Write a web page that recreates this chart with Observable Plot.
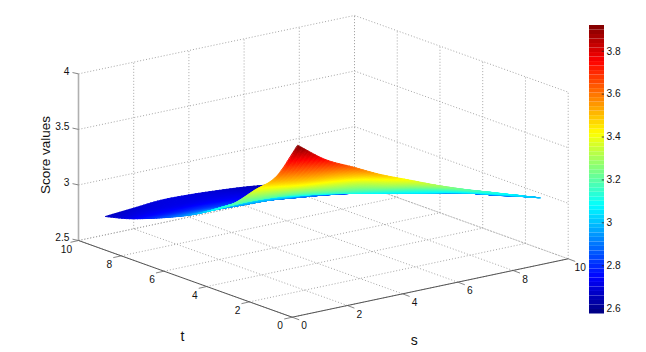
<!DOCTYPE html>
<html>
<head>
<meta charset="utf-8">
<script src="https://cdn.jsdelivr.net/npm/d3@7"></script>
<script src="https://cdn.jsdelivr.net/npm/@observablehq/plot@0.6"></script>
<style>
html,body{margin:0;padding:0;background:#fff;}
#chart{position:relative;width:646px;height:352px;overflow:hidden;}
#chart svg{position:absolute;left:0;top:0;background:transparent;}
</style>
</head>
<body>
<div id="chart"></div>
<script>
const sValues = [1,2,3,4,5,6,7,8,9,9.8];
const tValues = [1,2,3,4,5,6,7,8,9,10];
const row1  = [3.92,3.74,3.62,3.50,3.40,3.30,3.21,3.13,3.05,2.985];
const row2  = [3.57,3.48,3.43,3.37,3.27,3.20,3.13,3.06,2.99,2.93];
const row3  = [3.38,3.33,3.28,3.22,3.16,3.10,3.04,2.99,2.93,2.87];
const row4  = [3.19,3.18,3.16,3.12,3.07,3.02,2.97,2.92,2.87,2.82];
const row5  = [3.06,3.08,3.07,3.03,3.01,2.97,2.92,2.87,2.82,2.77];
const row6  = [2.95,2.95,2.94,2.93,2.90,2.87,2.83,2.79,2.75,2.71];
const row7  = [2.86,2.86,2.85,2.84,2.82,2.79,2.76,2.72,2.69,2.66];
const row8  = [2.78,2.78,2.78,2.77,2.75,2.73,2.70,2.67,2.64,2.62];
const row9  = [2.71,2.72,2.72,2.72,2.71,2.69,2.66,2.64,2.61,2.59];
const row10 = [2.66,2.68,2.70,2.695,2.68,2.66,2.63,2.60,2.59,2.58];
const rows = [row1,row2,row3,row4,row5,row6,row7,row8,row9,row10];

const stTicks = [0,2,4,6,8,10];
const zTicks = [2.5,3,3.5,4];
const zLabels = ["2.5","3","3.5","4"];
const barTicks = [2.6,2.8,3,3.2,3.4,3.6,3.8];
const colorDomain = [2.575,3.92];
const fontFamily = "'Liberation Sans',Arial,sans-serif";

// MATLAB's jet colormap
const clamp = v => Math.max(0,Math.min(1,v));
const jet = u => `rgb(${[3,2,1].map(k => Math.round(255*clamp(1.5-Math.abs(4*u-k)))).join(",")})`;

// Oblique view of the (s,t,z) box onto the page
const px = (s,t) => 291.7 + 27.6*s - 21.37*t;
const py = (s,t,z) => 316.7 - 5.84*s - 7.67*t - 111.1*(z-2.5);

// Smooth shading between the grid values; edges keep their slope so the peak stays sharp
const cr = (p0,p1,p2,p3,u) => 0.5*((2*p1)+(-p0+p2)*u+(2*p0-5*p1+4*p2-p3)*u*u+(-p0+3*p1-3*p2+p3)*u*u*u);
const at = (f,k) => k < 0 ? 2*f(0)-f(1) : k > 9 ? 2*f(9)-f(8) : f(k);
const zAt = (i,j,a,b) => {
  const col = n => {
    const f = m => rows[m][n];
    return cr(at(f,j-1),at(f,j),at(f,j+1),at(f,j+2),b);
  };
  return cr(at(col,i-1),at(col,i),at(col,i+1),at(col,i+2),a);
};

// Shaded facets, back to front; finer where the surface falls fastest
const subS = 8;
const facets = [];
let id = 0;
for (let j=8;j>=0;j--) {
  const subT = j < 3 ? 24 : 8;
  for (let i=8;i>=0;i--) {
    for (let b=subT-1;b>=0;b--) for (let a=subS-1;a>=0;a--) {
      const P = (u,v) => {
        const s=sValues[i]+u*(sValues[i+1]-sValues[i]), t=tValues[j]+v*(tValues[j+1]-tValues[j]), z=zAt(i,j,u,v);
        return {x:px(s,t), y:py(s,t,z), z};
      };
      const c00=P(a/subS,b/subT), c10=P((a+1)/subS,b/subT), c01=P(a/subS,(b+1)/subT), c11=P((a+1)/subS,(b+1)/subT);
      const v=(c00.z+c10.z+c01.z+c11.z)/4;
      facets.push({id,v,x1:c00.x,y1:c00.y,x2:c01.x,y2:c01.y});
      facets.push({id,v,x1:c10.x,y1:c10.y,x2:c11.x,y2:c11.y});
      id++;
    }
  }
}

// Box grid
const seg = (a,b) => ({x1:px(a[0],a[1]),y1:py(a[0],a[1],a[2]),x2:px(b[0],b[1]),y2:py(b[0],b[1],b[2])});
const grid = [];
for (const v of stTicks) {
  grid.push(seg([v,0,2.5],[v,10,2.5]));
  grid.push(seg([0,v,2.5],[10,v,2.5]));
  grid.push(seg([v,10,2.5],[v,10,4]));
  grid.push(seg([10,v,2.5],[10,v,4]));
}
for (const z of zTicks) {
  grid.push(seg([0,10,z],[10,10,z]));
  grid.push(seg([10,10,z],[10,0,z]));
}
const axesDark = [seg([0,10,2.5],[0,0,2.5]), seg([0,0,2.5],[10,0,2.5])];
const axisZ = [seg([0,10,2.5],[0,10,4])];

const tickLen = (x,y,dx,dy) => ({x1:x,y1:y,x2:x+dx,y2:y+dy});
const ticks = [
  ...zTicks.map(z => tickLen(px(0,10),py(0,10,z),-6,-1.3)),
  ...stTicks.map(t => tickLen(px(0,t),py(0,t,2.5),-8,1.8)),
  ...stTicks.map(s => tickLen(px(s,0),py(s,0,2.5),7,2.6))
];

const main = Plot.plot({
  width:646, height:352, margin:0,
  style:{background:"transparent",fontFamily},
  x:{domain:[0,646],axis:null},
  y:{domain:[0,352],range:[0,352],axis:null},
  color:{type:"linear",domain:colorDomain,interpolate:jet},
  marks:[
    Plot.link(grid,{x1:"x1",y1:"y1",x2:"x2",y2:"y2",stroke:"#a6a6a6",strokeWidth:1,strokeDasharray:"1,2"}),
    Plot.link(axisZ,{x1:"x1",y1:"y1",x2:"x2",y2:"y2",stroke:"#b0b0b0",strokeWidth:1.6}),
    Plot.link(axesDark,{x1:"x1",y1:"y1",x2:"x2",y2:"y2",stroke:"#555",strokeWidth:1}),
    Plot.link(ticks,{x1:"x1",y1:"y1",x2:"x2",y2:"y2",stroke:"#666",strokeWidth:0.8}),
    Plot.area(facets,{x1:"x1",y1:"y1",x2:"x2",y2:"y2",z:"id",fill:"v",stroke:"v",strokeWidth:0.9,curve:"linear"}),
    Plot.text(zTicks,{x:()=>px(0,10),y:d=>py(0,10,d),text:(d,i)=>zLabels[i],dx:-9,dy:-2.5,textAnchor:"end",fontSize:10.2,fill:"#111"}),
    Plot.text(stTicks,{x:d=>px(0,d),y:d=>py(0,d,2.5),text:d=>String(d),dx:-12,dy:9,textAnchor:"middle",fontSize:10.2,fill:"#111"}),
    Plot.text(stTicks,{x:d=>px(d,0),y:d=>py(d,0,2.5),text:d=>String(d),dx:12,dy:9,textAnchor:"middle",fontSize:10.2,fill:"#111"}),
    Plot.text(["t"],{x:()=>px(0,5)-3,y:()=>py(0,5,2.5)+58,text:d=>d,fontSize:14,fill:"#111"}),
    Plot.text(["s"],{x:()=>px(5,0)-16,y:()=>py(5,0,2.5)+53,text:d=>d,fontSize:14,fill:"#111"}),
    Plot.text(["Score values"],{x:()=>px(0,10)-33,y:()=>py(0,10,3.27),text:d=>d,rotate:-90,fontSize:13.5,fill:"#111"})
  ]
});

const barLevels = d3.range(64).map(i => colorDomain[0]+(colorDomain[1]-colorDomain[0])*i/64);
const barStep = (colorDomain[1]-colorDomain[0])/64;
const bar = Plot.plot({
  width:646, height:352,
  marginLeft:589, marginRight:42, marginTop:25, marginBottom:38.5,
  style:{background:"transparent",fontFamily,fontSize:"10.2px",color:"#111"},
  x:{domain:[0,1],axis:null},
  y:{domain:colorDomain,axis:null},
  color:{type:"linear",domain:colorDomain,interpolate:jet},
  marks:[
    Plot.rect(barLevels,{x1:0,x2:1,y1:d=>d,y2:d=>d+barStep,fill:d=>d+barStep/2}),
    Plot.ruleY(barTicks,{x1:0.85,x2:1,stroke:"#222",strokeWidth:0.8}),
    Plot.axisY(barTicks,{anchor:"right",label:null,tickSize:0,tickPadding:2,tickFormat:d=>String(d)})
  ]
});

document.getElementById("chart").append(main,bar);
</script>
</body>
</html>
